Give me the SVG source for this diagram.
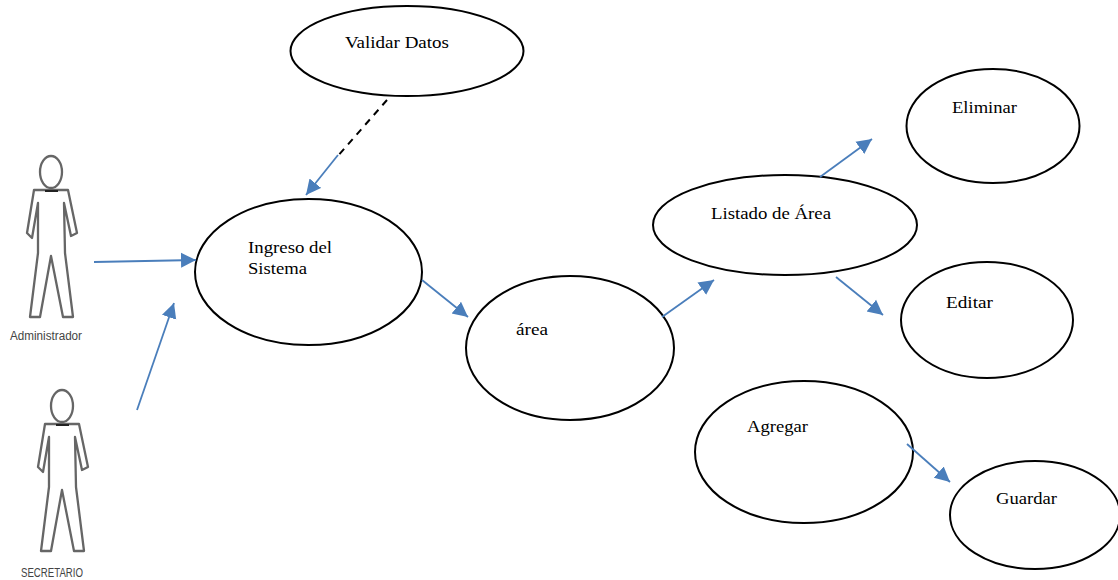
<svg xmlns="http://www.w3.org/2000/svg" width="1118" height="580" viewBox="0 0 1118 580">
<style>
.uc{fill:#fff;stroke:#000;stroke-width:2}
.t{font-family:"Liberation Serif","Times New Roman",serif;font-size:17px;fill:#000}
.a{fill:none;stroke:#4a7ebb;stroke-width:1.8;marker-end:url(#ah)}
.fig{fill:#fff;stroke:#666;stroke-width:2.3;stroke-linejoin:round}
.lab{font-family:"Liberation Sans",Arial,sans-serif;font-size:12px;fill:#444}
</style>
<defs>
<marker id="ah" markerUnits="userSpaceOnUse" markerWidth="17" markerHeight="17" refX="15" refY="8" orient="auto">
<path d="M0 0.5L15 8L0 15.5Z" fill="#4a7ebb"/>
</marker>
<g id="figure">
<ellipse class="fig" cx="51" cy="172" rx="11" ry="16"/>
<path class="fig" d="M44 190L34 190L27 233L32 238L38 203L38 253L30 317L40 317L51 256L63 317L73 317L65 253L64 203L71 236L77 233L68 190L58 190Z"/>
<path d="M45 191H58" stroke="#222" stroke-width="2" fill="none"/>
</g>
</defs>
<g id="actor-administrador">
<use href="#figure"/>
<text class="lab" x="10" y="340" textLength="72" lengthAdjust="spacingAndGlyphs">Administrador</text>
</g>
<g id="actor-secretario">
<use href="#figure" x="11" y="234"/>
<text class="lab" x="21" y="577" textLength="62" lengthAdjust="spacingAndGlyphs">SECRETARIO</text>
</g>
<g id="validar-datos">
<ellipse class="uc" cx="407" cy="51" rx="116.5" ry="45"/>
<text class="t" x="345" y="48" textLength="104" lengthAdjust="spacingAndGlyphs">Validar Datos</text>
</g>
<g id="ingreso">
<ellipse class="uc" cx="308.500" cy="272" rx="113.500" ry="73"/>
<text class="t" x="248" y="253" textLength="84" lengthAdjust="spacingAndGlyphs">Ingreso del</text>
<text class="t" x="248" y="274" textLength="59" lengthAdjust="spacingAndGlyphs">Sistema</text>
</g>
<g id="area">
<ellipse class="uc" cx="570" cy="348" rx="104" ry="72"/>
<text class="t" x="516" y="335" textLength="32" lengthAdjust="spacingAndGlyphs">área</text>
</g>
<g id="listado">
<ellipse class="uc" cx="785" cy="225" rx="132" ry="50"/>
<text class="t" x="711" y="219" textLength="120" lengthAdjust="spacingAndGlyphs">Listado de Área</text>
</g>
<g id="eliminar">
<ellipse class="uc" cx="993" cy="126" rx="86.500" ry="57"/>
<text class="t" x="952" y="113" textLength="65" lengthAdjust="spacingAndGlyphs">Eliminar</text>
</g>
<g id="editar">
<ellipse class="uc" cx="987" cy="320" rx="86" ry="58"/>
<text class="t" x="946" y="308" textLength="47" lengthAdjust="spacingAndGlyphs">Editar</text>
</g>
<g id="agregar">
<ellipse class="uc" cx="804" cy="452" rx="109" ry="71"/>
<text class="t" x="747" y="432" textLength="61" lengthAdjust="spacingAndGlyphs">Agregar</text>
</g>
<g id="guardar">
<ellipse class="uc" cx="1035" cy="515" rx="85" ry="54"/>
<text class="t" x="996" y="504" textLength="61" lengthAdjust="spacingAndGlyphs">Guardar</text>
</g>
<g id="connectors">
<path class="a" d="M94 262L196 260"/>
<path class="a" d="M137 410L174 303"/>
<path d="M387 100L336 158" fill="none" stroke="#000" stroke-width="2" stroke-dasharray="7 6"/>
<path class="a" d="M338 155L306 195"/>
<path class="a" d="M422 280L468 317"/>
<path class="a" d="M662 317L714 280"/>
<path class="a" d="M820 177L872 139"/>
<path class="a" d="M836 277L883 315"/>
<path class="a" d="M907 444L950 482"/>
</g>
</svg>
